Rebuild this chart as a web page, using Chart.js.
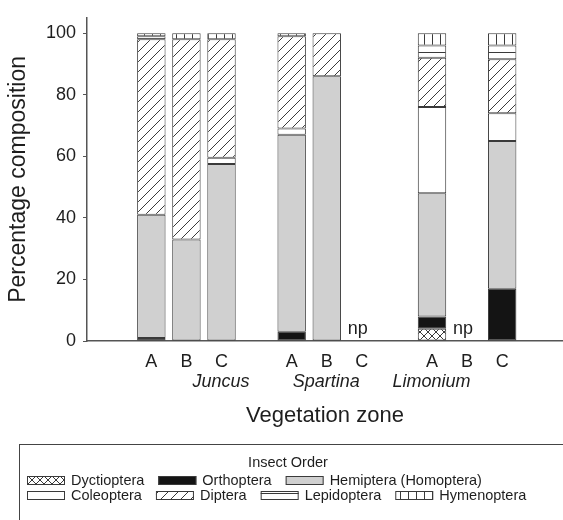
<!DOCTYPE html>
<html>
<head>
<meta charset="utf-8">
<script src="https://cdn.jsdelivr.net/npm/chart.js@4"></script>
<style>
  html, body { margin: 0; padding: 0; background: #fff; }
</style>
</head>
<body>
<canvas id="chart" width="563" height="520"></canvas>
<script>
var sites = ['Juncus', 'Spartina', 'Limonium'];
var zones = ['A', 'B', 'C'];
var yTicks = [0, 20, 40, 60, 80, 100];

// bars in order Juncus A,B,C / Spartina A,B,C / Limonium A,B,C ; null = np
var dyctioptera = [0, 0, 0, 0, 0, null, 4, null, 0];
var orthoptera  = [1, 0, 0, 3, 0, null, 4, null, 17];
var hemiptera   = [40, 33, 57.5, 64, 86, null, 40, null, 48];
var coleoptera  = [0, 0, 2, 2, 0, null, 28, null, 9];
var diptera     = [57, 65, 38.5, 30, 14, null, 16, null, 17.5];
var lepidoptera = [1, 0, 0, 0, 0, null, 4, null, 4.5];
var hymenoptera = [1, 2, 2, 1, 0, null, 4, null, 4];

var orderNames = ['Dyctioptera', 'Orthoptera', 'Hemiptera (Homoptera)', 'Coleoptera',
                  'Diptera', 'Lepidoptera', 'Hymenoptera'];
var orderValues = [dyctioptera, orthoptera, hemiptera, coleoptera, diptera, lepidoptera, hymenoptera];
var legendRows = [[0, 1, 2], [3, 4, 5, 6]];

var INK = '#3a3a3a';
var AXIS = '#555';
var TEXT = '#1e1e1e';
var FONT = '"Liberation Sans", Arial, sans-serif';

// bar slots: 3 bars per site, one empty slot between sites
function slot(i) { return Math.floor(i / 3) * 4 + i % 3; }
var positions = hemiptera.map(function(v, i) { return slot(i); });
var siteCenters = sites.map(function(s, g) { return g * 4 + 1; });
var xMin = -1.08, xMax = 10.98;

var canvas = document.getElementById('chart');
var ctx = canvas.getContext('2d');

function tile(w, h, draw) {
  var c = document.createElement('canvas');
  c.width = w; c.height = h;
  var t = c.getContext('2d');
  t.fillStyle = '#fff';
  t.fillRect(0, 0, w, h);
  t.strokeStyle = INK;
  t.lineWidth = 1;
  draw(t);
  return ctx.createPattern(c, 'repeat');
}

var fills = [
  tile(8, 8, function(t) {
    t.beginPath();
    t.moveTo(0, 0); t.lineTo(8, 8);
    t.moveTo(0, 8); t.lineTo(8, 0);
    t.stroke();
  }),
  '#141414',
  '#d0d0d0',
  '#ffffff',
  tile(10, 10, function(t) {
    t.beginPath();
    t.moveTo(0, 10); t.lineTo(10, 0);
    t.moveTo(-1, 1); t.lineTo(1, -1);
    t.moveTo(9, 11); t.lineTo(11, 9);
    t.stroke();
  }),
  tile(8, 7, function(t) {
    t.beginPath();
    t.moveTo(0, 3.5); t.lineTo(8, 3.5);
    t.stroke();
  }),
  tile(8, 8, function(t) {
    t.beginPath();
    t.moveTo(0.5, 0); t.lineTo(0.5, 8);
    t.stroke();
  })
];

var datasets = orderNames.map(function(name, k) {
  return {
    label: name,
    data: orderValues[k].map(function(v, i) {
      return { x: positions[i], y: v ? v : null };
    }),
    backgroundColor: fills[k],
    borderColor: INK,
    borderWidth: 1,
    borderSkipped: false,
    categoryPercentage: 0.9,
    barPercentage: 0.9
  };
});

var npPlugin = {
  id: 'npLabels',
  afterDatasetsDraw: function(chart) {
    var c = chart.ctx, x = chart.scales.x, y = chart.scales.y;
    c.save();
    c.fillStyle = TEXT;
    c.font = '18px ' + FONT;
    c.textAlign = 'center';
    c.textBaseline = 'bottom';
    hemiptera.forEach(function(v, i) {
      if (v === null) c.fillText('np', x.getPixelForValue(positions[i]) - 4, y.getPixelForValue(0) - 3);
    });
    c.restore();
  }
};

var legendPlugin = {
  id: 'orderLegend',
  afterDraw: function(chart) {
    var c = chart.ctx;
    c.save();
    c.strokeStyle = '#444';
    c.lineWidth = 1;
    c.strokeRect(19.5, 444.5, 600, 200);
    c.fillStyle = TEXT;
    c.font = '14.5px ' + FONT;
    c.textAlign = 'center';
    c.textBaseline = 'middle';
    c.fillText('Insect Order', 288, 463);
    c.textAlign = 'left';
    legendRows.forEach(function(row, r) {
      var cy = 480 + r * 15;
      var x = 27;
      row.forEach(function(k) {
        c.fillStyle = fills[k];
        c.fillRect(x, cy - 4, 38, 9);
        c.strokeStyle = INK;
        c.strokeRect(x + 0.5, cy - 3.5, 37, 8);
        c.fillStyle = TEXT;
        c.fillText(orderNames[k], x + 44, cy + 1);
        x += 44 + c.measureText(orderNames[k]).width + 14;
      });
    });
    c.restore();
  }
};

new Chart(canvas, {
  type: 'bar',
  data: { datasets: datasets },
  options: {
    responsive: false,
    animation: false,
    layout: { padding: { left: 0, right: 0, top: 7, bottom: 79 } },
    plugins: { legend: { display: false }, tooltip: { enabled: false } },
    scales: {
      x: {
        type: 'linear',
        stacked: true,
        min: xMin,
        max: xMax,
        weight: 0,
        afterBuildTicks: function(s) { s.ticks = positions.map(function(p) { return { value: p }; }); },
        afterFit: function(s) { s.height = 30; },
        grid: { display: false, drawTicks: false },
        border: { display: true, color: AXIS, width: 1.5 },
        ticks: {
          autoSkip: false, maxRotation: 0, padding: 10, color: TEXT,
          font: { family: FONT, size: 18 },
          callback: function(v) {
            var i = positions.indexOf(v);
            return i < 0 ? '' : zones[i % 3];
          }
        }
      },
      x2: {
        type: 'linear',
        position: 'bottom',
        min: xMin,
        max: xMax,
        weight: 1,
        afterBuildTicks: function(s) { s.ticks = siteCenters.map(function(p) { return { value: p }; }); },
        afterFit: function(s) { s.height = 70; },
        grid: { display: false, drawTicks: false },
        border: { display: false },
        ticks: {
          autoSkip: false, maxRotation: 0, padding: 0, color: TEXT,
          font: { family: FONT, size: 18, style: 'italic' },
          callback: function(v) {
            var g = siteCenters.indexOf(v);
            return g < 0 ? '' : sites[g];
          }
        },
        title: {
          display: true, text: 'Vegetation zone', color: TEXT,
          font: { family: FONT, size: 22 },
          padding: { top: 0, bottom: 12 }
        }
      },
      y: {
        stacked: true,
        min: 0,
        max: 105,
        afterBuildTicks: function(s) { s.ticks = yTicks.map(function(v) { return { value: v }; }); },
        afterFit: function(s) { s.width = 87; },
        grid: { drawOnChartArea: false, drawTicks: true, tickLength: 4, color: AXIS, tickColor: AXIS },
        border: { display: true, color: AXIS, width: 1.5 },
        ticks: { padding: 7, color: TEXT, font: { family: FONT, size: 18 } },
        title: {
          display: true, text: 'Percentage composition', color: TEXT,
          font: { family: FONT, size: 23 },
          padding: { top: 5, bottom: 0 }
        }
      }
    }
  },
  plugins: [npPlugin, legendPlugin]
});
</script>
</body>
</html>
